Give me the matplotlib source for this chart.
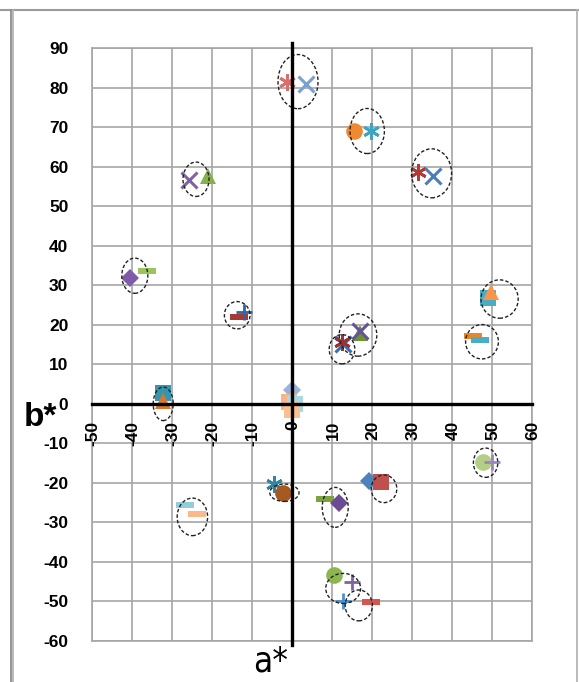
import matplotlib.pyplot as plt
from matplotlib.patches import Ellipse
from matplotlib.lines import Line2D
from matplotlib.transforms import offset_copy

plt.rcParams["axes.unicode_minus"] = False

# ===============================
# DADOS (a*, b*)
# ===============================

pt_a = [-1.3, 3.5, -25.7, -20.9, 15.5, 19.8, 31.4, 35.3,
        -40.5, -36.3, -13.3, -12.0, -32.3, -32.3,
        0.0, -0.7, 0.7, 0.0,
        12.8, 12.5, 17.0, 17.0, 49.1, 49.7, 45.3, 47.0,
        -4.4, -2.2, -26.8, -23.7, 8.3, 11.8, 19.3, 22.3,
        47.7, 49.9, 10.6, 14.9, 12.7, 19.7]
pt_b = [81.3, 81.0, 56.7, 57.7, 69.1, 69.1, 58.6, 57.7,
        31.8, 33.5, 21.9, 23.1, 2.8, 0.8,
        3.5, 0.5, 0.0, -1.5,
        15.0, 15.6, 17.9, 18.5, 26.7, 28.4, 17.2, 16.2,
        -20.3, -22.6, -25.6, -27.9, -24.1, -25.0, -19.5, -19.7,
        -14.8, -14.6, -43.3, -45.2, -50.0, -50.2]
pt_tipo = ["ast", "x", "x", "tri", "circ", "ast", "ast", "x",
           "diam", "dash", "dash", "plus", "sq", "tri",
           "diam", "sq", "sq", "sq",
           "x", "ast", "tri", "x", "sq", "tri", "dash", "dash",
           "ast", "circ", "dash", "dash", "dash", "diam", "diam", "sq",
           "circ", "plus", "circ", "plus", "plus", "dash"]
pt_cor = ["#DA6E6C", "#7BA0CD", "#8064A2", "#86B04A", "#F08A30", "#3FA4C2", "#B03A36", "#4A7EBB",
          "#7E5CA7", "#9BC55A", "#A63A37", "#2F64A8", "#3596AE", "#D9782A",
          "#9BB3DA", "#F7B58A", "#A9D8E6", "#FAC090",
          "#3A6FB0", "#993333", "#6E9234", "#66539A", "#4BACC6", "#F79646", "#E8862E", "#4BACC6",
          "#31859C", "#A65A1F", "#92CDDC", "#FAB88C", "#7DA33E", "#6B4C93", "#4F81BD", "#C0504D",
          "#B3CE85", "#9E84C2", "#8DB650", "#8064A2", "#4A90D0", "#D9534F"]

# elipses tracejadas (centro a*, centro b*, largura, altura)
el_a = [1.5, -24.0, 18.8, 34.9, -39.3, -13.7, -32.2, 12.5, 16.5,
        51.9, 47.5, -1.9, -24.9, 10.8, 23.0, 48.4, 12.8, 16.7]
el_b = [81.5, 56.8, 69.0, 58.3, 32.4, 22.4, 0.0, 13.8, 17.4,
        26.5, 15.7, -22.5, -28.6, -26.2, -21.5, -14.9, -46.7, -51.0]
el_w = [10.0, 6.5, 8.6, 10.0, 6.5, 6.4, 5.0, 6.4, 9.4,
        9.3, 8.2, 7.3, 7.6, 6.5, 6.4, 6.1, 8.7, 6.8]
el_h = [13.7, 8.7, 11.4, 12.4, 8.9, 6.9, 8.5, 7.4, 10.7,
        9.7, 8.7, 4.4, 9.5, 10.1, 7.0, 7.4, 7.6, 7.8]

x_ticks = list(range(-50, 61, 10))
y_ticks = list(range(-60, 91, 10))

# ===============================
# ESTILO DOS MARCADORES
# ===============================

DASH = [(-1, -0.28), (1, -0.28), (1, 0.28), (-1, 0.28), (-1, -0.28)]
estilo = {
    "x":    dict(marker="x", ms=11, mew=2.2),
    "ast":  dict(marker=(6, 2, 0), ms=12, mew=2.0),
    "plus": dict(marker="+", ms=12, mew=2.0),
    "tri":  dict(marker="^", ms=11, mew=0),
    "circ": dict(marker="o", ms=12, mew=0),
    "sq":   dict(marker="s", ms=11, mew=0),
    "diam": dict(marker="D", ms=9, mew=0),
    "dash": dict(marker=DASH, ms=13, mew=0),
}

# ===============================
# FIGURA
# ===============================

fig = plt.figure(figsize=(5.79, 6.82), dpi=100)
ax = fig.add_axes([92 / 579, 41 / 682, 440 / 579, 593 / 682])

ax.set_xlim(-50, 60)
ax.set_ylim(-60, 90)
ax.set_xticks(x_ticks)
ax.set_yticks(y_ticks)
ax.grid(color="#a6a6a6", lw=1.2, zorder=0)
ax.set_axisbelow(True)
for s in ax.spines.values():
    s.set_color("#a6a6a6")
    s.set_linewidth(1.2)
ax.tick_params(length=0, labelbottom=False, pad=17)
for t in ax.get_yticklabels():
    t.set_fontfamily("Liberation Sans")
    t.set_fontweight("bold")
    t.set_fontsize(12.5)

# rótulos do eixo a* rotacionados, logo abaixo de b*=0
trans = offset_copy(ax.transData, fig=fig, x=1, y=-17, units="dots")
for xt in x_ticks:
    ax.text(xt, 0, str(xt), transform=trans, rotation=90, ha="center", va="top",
            fontfamily="Liberation Sans", fontweight="bold", fontsize=12.5)

# pontos
for a, b, tp, c in zip(pt_a, pt_b, pt_tipo, pt_cor):
    st = estilo[tp]
    if tp in ("x", "ast", "plus"):
        ax.plot(a, b, ls="none", marker=st["marker"], ms=st["ms"], mew=st["mew"],
                color=c, zorder=3)
    else:
        ax.plot(a, b, ls="none", marker=st["marker"], ms=st["ms"], mew=0,
                color=c, zorder=3)

# elipses
for a, b, w, h in zip(el_a, el_b, el_w, el_h):
    ax.add_patch(Ellipse((a, b), w, h, fill=False, ec="#222222", lw=1.0,
                         ls=(0, (2.5, 1.5)), zorder=4))

# eixos pretos
ax.plot([-50, 60], [0, 0], color="black", lw=2.4, zorder=5, clip_on=False)
ax.plot([0, 0], [-61, 91.3], color="black", lw=2.4, zorder=5, clip_on=False)

# títulos dos eixos
fig.text(57 / 579, 1 - 426 / 682, "b*", ha="right", va="baseline",
         fontfamily="Liberation Sans", fontweight="bold", fontsize=24)
fig.text(271 / 579, 1 - 672 / 682, "a*", ha="center", va="baseline",
         fontfamily="DejaVu Sans", fontstretch="condensed", fontsize=25)

# moldura externa
fig.add_artist(Line2D([0, 1], [1 - 10 / 682] * 2, color="#9a9a9a", lw=1.5))
fig.add_artist(Line2D([10.5 / 579] * 2, [0, 1 - 10 / 682], color="#8c8c8c", lw=1.3))
fig.add_artist(Line2D([13 / 579] * 2, [0, 1 - 10 / 682], color="#b4b4b4", lw=1.3))
fig.add_artist(Line2D([576.5 / 579] * 2, [0, 1 - 10 / 682], color="#b4b4b4", lw=1.3))

fig.savefig("out.png", dpi=100)
